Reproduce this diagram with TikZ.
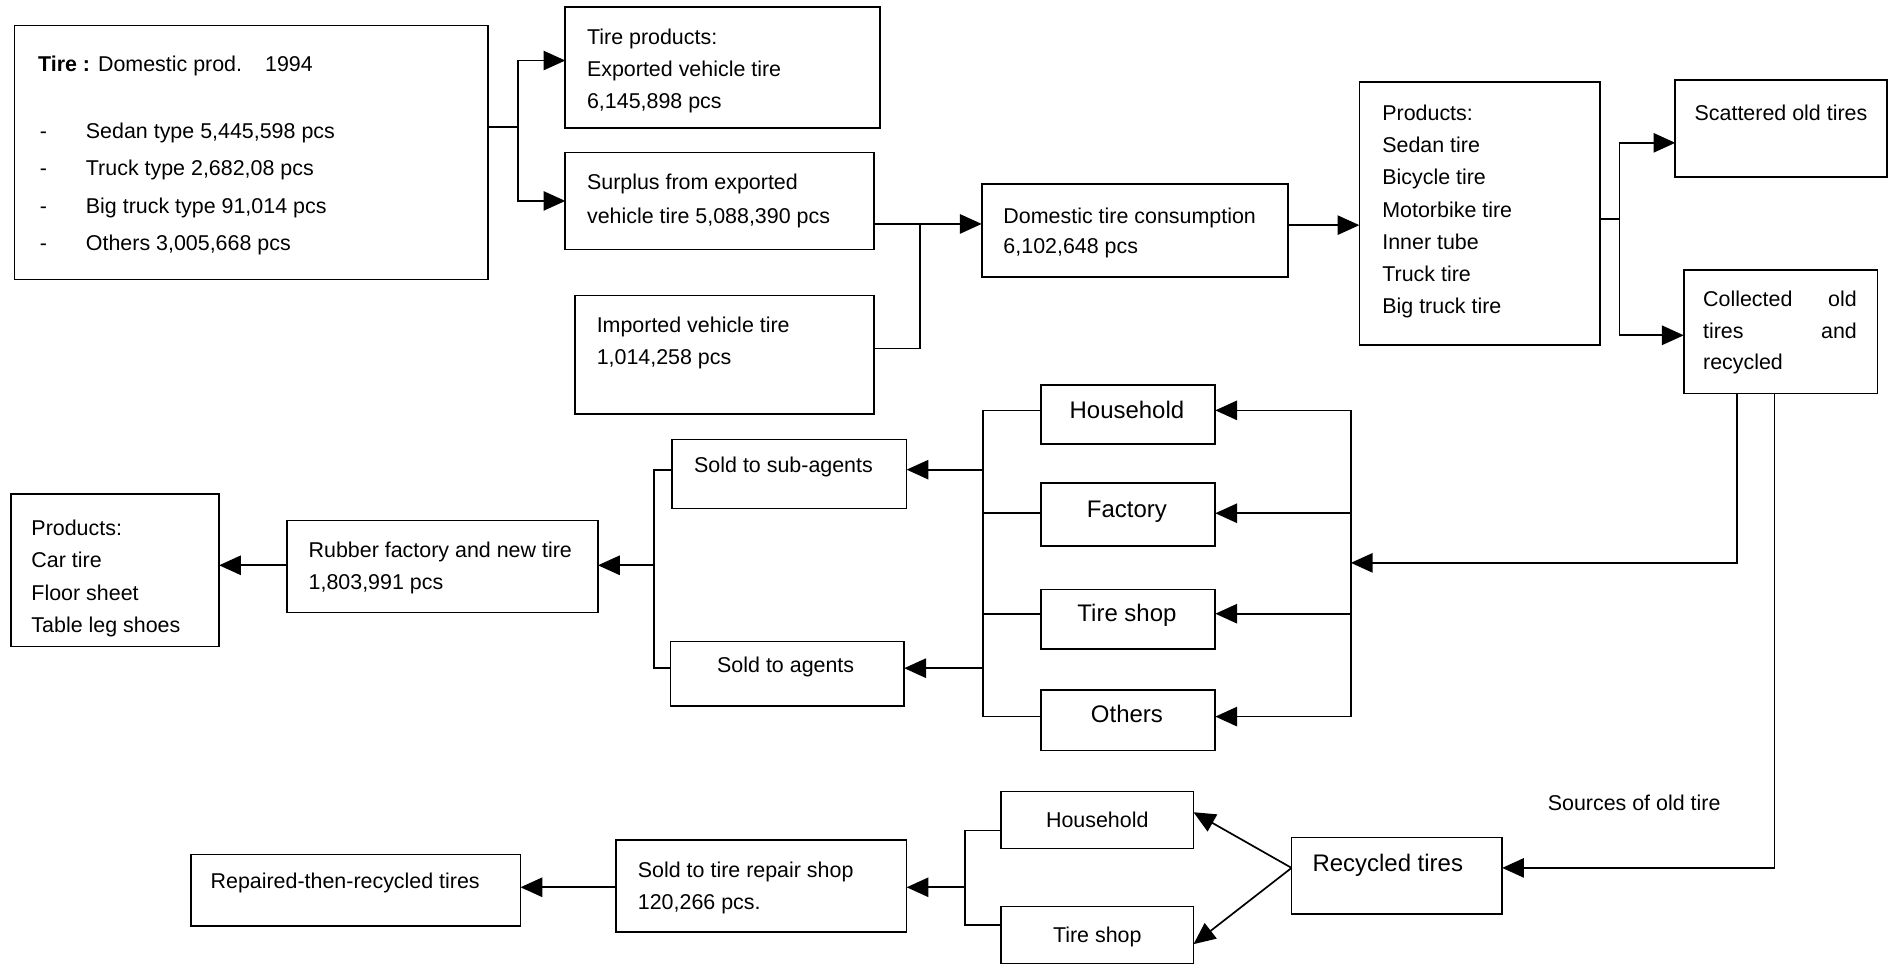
\documentclass[tikz,border=0pt]{standalone}
\usepackage{fontspec}
\setmainfont{Liberation Sans}
\usetikzlibrary{arrows.meta,fit,calc}
\begin{document}
\begin{tikzpicture}[x=1pt,y=-1pt,
  box/.style={draw, line width=1.4pt, inner sep=0pt, outer sep=0pt},
  txt/.style={inner sep=0pt, outer sep=0pt, align=left, anchor=north west, font=\fontsize{17.7}{26.5}\selectfont},
  bigl/.style={inner sep=0pt, outer sep=0pt, text height=0.73em, text depth=0pt, font=\fontsize{19.8}{24}\selectfont},
  lab/.style={inner sep=0pt, outer sep=0pt, text height=0.73em, text depth=0pt, font=\fontsize{17.7}{24}\selectfont},
  ln/.style={line width=1.4pt},
  arr/.style={line width=1.4pt, -{Triangle[length=18pt,width=16pt]}},
]
\fill[white] (0,0) rectangle (1568,797);
\useasboundingbox (0,0) rectangle (1568,797);

% ---------- boxes ----------
\node[box, fit={(12,21) (403,231)}] (tire) {};
\node[box, fit={(467,6) (727,106)}] (tp) {};
\node[box, fit={(467,126) (722,206)}] (sur) {};
\node[box, fit={(475,244) (722,342)}] (imp) {};
\node[box, fit={(811,152) (1064,229)}] (dom) {};
\node[box, fit={(1123,68) (1322,285)}] (prod) {};
\node[box, fit={(1384,66) (1559,146)}] (scat) {};
\node[box, fit={(1391,223) (1551,325)}] (coll) {};
\node[box, fit={(860,318) (1004,367)}] (hh) {};
\node[box, fit={(860,399) (1004,451)}] (fac) {};
\node[box, fit={(860,487) (1004,536)}] (ts) {};
\node[box, fit={(860,570) (1004,620)}] (oth) {};
\node[box, fit={(555,363) (749,420)}] (sub) {};
\node[box, fit={(554,530) (747,583)}] (ag) {};
\node[box, fit={(237,430) (494,506)}] (rub) {};
\node[box, fit={(9,408) (181,534)}] (prodl) {};
\node[box, fit={(158,706) (430,765)}] (rep) {};
\node[box, fit={(509,694) (749,770)}] (srs) {};
\node[box, fit={(827,654) (986,701)}] (hhb) {};
\node[box, fit={(827,749) (986,796)}] (tsb) {};
\node[box, fit={(1067,692) (1241,755)}] (rec) {};

% ---------- texts ----------
\node[txt] (tire-h) at (31.5,46) {\textbf{Tire :} Domestic prod.\hspace{19pt}1994};
\node[txt, font=\fontsize{17.7}{31}\selectfont] (tire-l) at (33,101.5)
  {\makebox[38pt][l]{-}Sedan type 5,445,598 pcs\\
   \makebox[38pt][l]{-}Truck type 2,682,08 pcs\\
   \makebox[38pt][l]{-}Big truck type 91,014 pcs\\
   \makebox[38pt][l]{-}Others 3,005,668 pcs};
\node[txt] (tp-t) at (485,24.2) {Tire products:\\Exported vehicle tire\\6,145,898 pcs};
\node[txt, font=\fontsize{17.7}{28}\selectfont] (sur-t) at (485,143.5) {Surplus from exported\\vehicle tire 5,088,390 pcs};
\node[txt] (imp-t) at (493,261.5) {Imported vehicle tire\\1,014,258 pcs};
\node[txt, font=\fontsize{17.7}{25.5}\selectfont] (dom-t) at (829,171.5) {Domestic tire consumption\\6,102,648 pcs};
\node[txt] (prod-t) at (1142,87) {Products:\\Sedan tire\\Bicycle tire\\Motorbike tire\\Inner tube\\Truck tire\\Big truck tire};
\node[txt] (scat-t) at (1400,86.5) {Scattered old tires};
\node[txt, font=\fontsize{17.7}{26}\selectfont] (coll-t) at (1407,240.5)
  {\makebox[127pt]{Collected\hfill old}\\\makebox[127pt]{tires\hfill and}\\recycled};
\node[bigl] (hh-t) at (931,342) {Household};
\node[bigl] (fac-t) at (931,424) {Factory};
\node[bigl] (ts-t) at (931,510) {Tire shop};
\node[bigl] (oth-t) at (931,593) {Others};
\node[txt] (sub-t) at (573.5,377.5) {Sold to sub-agents};
\node[txt] (ag-t) at (592.5,543) {Sold to agents};
\node[txt] (rub-t) at (255,448) {Rubber factory and new tire\\1,803,991 pcs};
\node[txt, font=\fontsize{17.7}{26.7}\selectfont] (prodl-t) at (26,429.5) {Products:\\Car tire\\Floor sheet\\Table leg shoes};
\node[txt] (rep-t) at (174,721.5) {Repaired-then-recycled tires};
\node[txt] (srs-t) at (527,712) {Sold to tire repair shop\\120,266 pcs.};
\node[lab] (hhb-t) at (906.5,680) {Household};
\node[lab] (tsb-t) at (906.5,775) {Tire shop};
\node[bigl] (rec-t) at (1146.5,716) {Recycled tires};
\node[lab] (src) at (1350,666) {Sources of old tire};

% ---------- connectors ----------
\coordinate (j1) at (428,105);
\draw[ln] (tire.east |- j1) -- (j1);
\draw[arr] (j1) |- (tp.west |- 0,50);
\draw[arr] (j1) |- (sur.west |- 0,166);

\coordinate (j2) at (760,185);
\draw[ln] (sur.east |- j2) -- (j2);
\draw[ln] (imp.east |- 0,288) -| (j2);
\draw[arr] (j2) -- (dom.west |- j2);

\draw[arr] (dom.east |- 0,186) -- (prod.west |- 0,186);

\coordinate (j3) at (1338,181);
\draw[ln] (prod.east |- j3) -- (j3);
\draw[arr] (j3) |- (scat.west |- 0,118);
\draw[arr] (j3) |- (coll.west |- 0,277);

% collected -> sources (middle)
\coordinate (rb1) at (1116,339);
\coordinate (rb4) at (1116,592);
\coordinate (rbm) at (1116,465);
\draw[arr] (coll.south -| 1435,0) |- (rbm);
\draw[ln] (rb1) -- (rb4);
\draw[arr] (rb1) -- (hh.east |- rb1);
\draw[arr] (rb1 |- 0,424) -- (fac.east |- 0,424);
\draw[arr] (rb1 |- 0,507) -- (ts.east |- 0,507);
\draw[arr] (rb4) -- (oth.east |- rb4);

% sources -> agents
\coordinate (lb1) at (812,339);
\coordinate (lb4) at (812,592);
\draw[ln] (hh.west |- lb1) -- (lb1) -- (lb4) -- (oth.west |- lb4);
\draw[ln] (fac.west |- 0,424) -- (lb1 |- 0,424);
\draw[ln] (ts.west |- 0,507) -- (lb1 |- 0,507);
\draw[arr] (lb1 |- 0,388) -- (sub.east |- 0,388);
\draw[arr] (lb1 |- 0,552) -- (ag.east |- 0,552);

% agents -> rubber factory -> products
\coordinate (ab1) at (540,388);
\coordinate (ab2) at (540,552);
\draw[ln] (sub.west |- ab1) -- (ab1) -- (ab2) -- (ag.west |- ab2);
\draw[arr] (ab1 |- 0,467) -- (rub.east |- 0,467);
\draw[arr] (rub.west |- 0,467) -- (prodl.east |- 0,467);

% collected -> recycled tires
\draw[arr] (coll.south -| 1466,0) |- (rec.east |- 0,717);
\coordinate (rl) at (rec.west |- 0,717);
\draw[arr] (rl) -- (hhb.east |- 0,671);
\draw[arr] (rl) -- (tsb.east |- 0,780);

% bottom bracket -> repair shop -> repaired
\coordinate (bb1) at (797,686);
\coordinate (bb2) at (797,764);
\draw[ln] (hhb.west |- bb1) -- (bb1) -- (bb2) -- (tsb.west |- bb2);
\draw[arr] (bb1 |- 0,733) -- (srs.east |- 0,733);
\draw[arr] (srs.west |- 0,733) -- (rep.east |- 0,733);
\end{tikzpicture}
\end{document}
